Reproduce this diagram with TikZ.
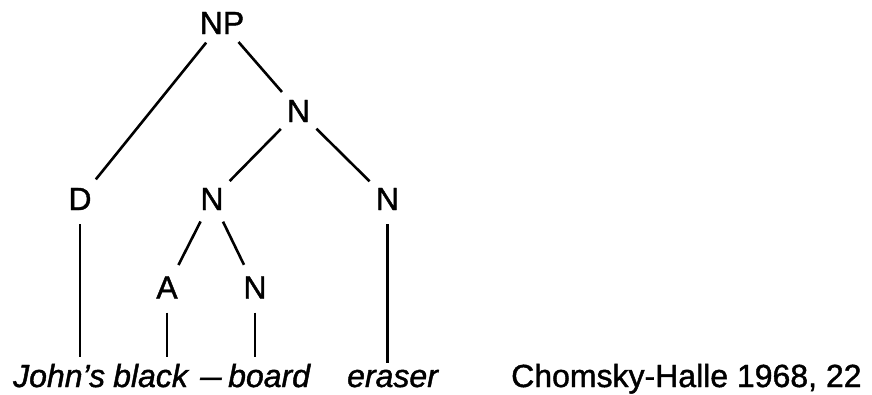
\documentclass[tikz,border=0pt]{standalone}
\usepackage{fontspec}
\usepackage{graphicx}
\setmainfont[FakeBold=1.3]{Liberation Sans}
\begin{document}
\begin{tikzpicture}[x=1pt,y=-1pt,
  cat/.style={circle,inner sep=0pt,minimum size=50pt,font=\fontsize{32}{36}\selectfont},
  word/.style={anchor=base west,inner sep=0pt,font=\fontsize{32}{36}\selectfont\itshape},
  src/.style={anchor=base west,inner sep=0pt,font=\fontsize{32}{36}\selectfont},
  edge/.style={line width=2.6pt},
  leaf/.style={line width=2.6pt,shorten >=7pt}]
\useasboundingbox (0,0) rectangle (872,394);
% categories
\node[cat] (NP) at (222,23) {NP};
\node[cat] (N1) at (298.5,111) {N};
\node[cat] (D) at (80,199) {D};
\node[cat] (N2) at (212,199) {N};
\node[cat] (N3) at (387.5,199) {N};
\node[cat] (A) at (167,287.5) {A};
\node[cat] (N4) at (255,287.5) {N};
% words
\node[word] (john) at (13,387) {John’s};
\node[word] (black) at (113,387) {black};
\node[word] (dash) at (200,387) {\scalebox{1.2}[1]{–}};
\node[word] (board) at (228,387) {board};
\node[word] (eraser) at (347,387) {eraser};
\node[src] (source) at (511,387) {Chomsky-Halle 1968, 22};
% branches
\draw[edge] (NP) -- (D);
\draw[edge] (NP) -- (N1);
\draw[edge] (N1) -- (N2);
\draw[edge] (N1) -- (N3);
\draw[edge] (N2) -- (A);
\draw[edge] (N2) -- (N4);
\draw[leaf] (D) -- (D |- john.north);
\draw[leaf] (A) -- (A |- black.north);
\draw[leaf] (N4) -- (N4 |- board.north);
\draw[leaf] (N3) -- (N3 |- eraser.north);
\end{tikzpicture}
\end{document}
